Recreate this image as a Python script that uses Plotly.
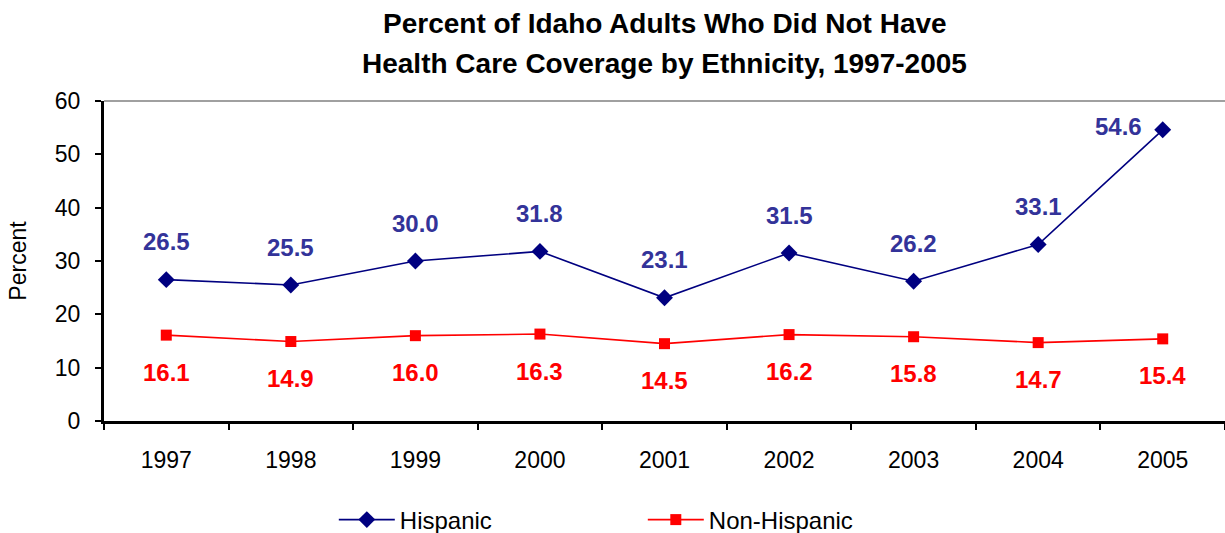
import plotly.graph_objects as go

years = ["1997", "1998", "1999", "2000", "2001", "2002", "2003", "2004", "2005"]
hispanic = [26.5, 25.5, 30.0, 31.8, 23.1, 31.5, 26.2, 33.1, 54.6]
non_hispanic = [16.1, 14.9, 16.0, 16.3, 14.5, 16.2, 15.8, 14.7, 15.4]
title_lines = ["Percent of Idaho Adults Who Did Not Have",
               "Health Care Coverage by Ethnicity, 1997-2005"]

FONT = "Liberation Sans, Arial, sans-serif"
NAVY = "#000080"
LABEL_BLUE = "#333399"
RED = "#FF0000"

W, H = 1225, 533
TOP, BOTTOM_Y = 101, 421
PLOT_H = BOTTOM_Y - TOP


def py(pix):
    """pixel row -> paper fraction of the plot area"""
    return (BOTTOM_Y - pix) / PLOT_H


fig = go.Figure()
fig.add_trace(go.Scatter(
    x=years, y=hispanic, name="Hispanic", mode="lines+markers",
    line=dict(color=NAVY, width=1.6),
    marker=dict(symbol="diamond", size=13, color=NAVY),
))
fig.add_trace(go.Scatter(
    x=years, y=non_hispanic, name="Non-Hispanic", mode="lines+markers",
    line=dict(color=RED, width=1.6),
    marker=dict(symbol="square", size=11, color=RED),
))

annotations = []
for i, v in enumerate(hispanic):
    last = i == len(hispanic) - 1
    annotations.append(dict(
        x=i, y=v, xref="x", yref="y", text=f"<b>{v:.1f}</b>", showarrow=False,
        font=dict(family=FONT, size=24, color=LABEL_BLUE),
        xshift=-44 if last else 0, yshift=3 if last else 38,
    ))
for i, v in enumerate(non_hispanic):
    annotations.append(dict(
        x=i, y=v, xref="x", yref="y", text=f"<b>{v:.1f}</b>", showarrow=False,
        font=dict(family=FONT, size=24, color=RED),
        yshift=-37,
    ))
for txt, ypix in zip(title_lines, [23, 63]):
    annotations.append(dict(
        x=0.5, xref="paper", y=py(ypix), yref="paper", text=f"<b>{txt}</b>",
        showarrow=False, xanchor="center", yanchor="middle",
        font=dict(family=FONT, size=28, color="black"),
    ))

fig.update_layout(
    width=W, height=H,
    margin=dict(l=104, r=0, t=TOP, b=H - BOTTOM_Y, autoexpand=False),
    paper_bgcolor="white", plot_bgcolor="white",
    font=dict(family=FONT, size=22, color="black"),
    annotations=annotations,
    showlegend=True,
    legend=dict(
        orientation="h", x=0.205, xanchor="left", y=py(520), yanchor="middle",
        xref="paper", yref="paper",
        font=dict(family=FONT, size=24, color="black"),
        itemwidth=56, entrywidth=238, bgcolor="rgba(0,0,0,0)",
        itemclick=False,
    ),
    shapes=[dict(type="line", xref="paper", yref="paper", x0=0, x1=1, y0=1, y1=1,
                 line=dict(color="#808080", width=1.5))],
)
fig.update_xaxes(
    type="category", range=[-0.5, 8.5],
    showline=True, linecolor="black", linewidth=3,
    ticks="outside", tickson="boundaries", ticklen=6, tickcolor="black", tickwidth=1.5,
    tickfont=dict(family=FONT, size=23, color="black"),
    ticklabelstandoff=16, showgrid=False, zeroline=False, automargin=False,
)
fig.update_yaxes(
    range=[0, 60], dtick=10,
    showline=True, linecolor="black", linewidth=3,
    ticks="outside", ticklen=6, tickcolor="black", tickwidth=1.5,
    tickfont=dict(family=FONT, size=23, color="black"),
    ticklabelstandoff=10,
    showgrid=False, zeroline=False, automargin=False,
    title=dict(text="Percent", font=dict(family=FONT, size=23, color="black"), standoff=22),
)

fig.write_html("out.html")
